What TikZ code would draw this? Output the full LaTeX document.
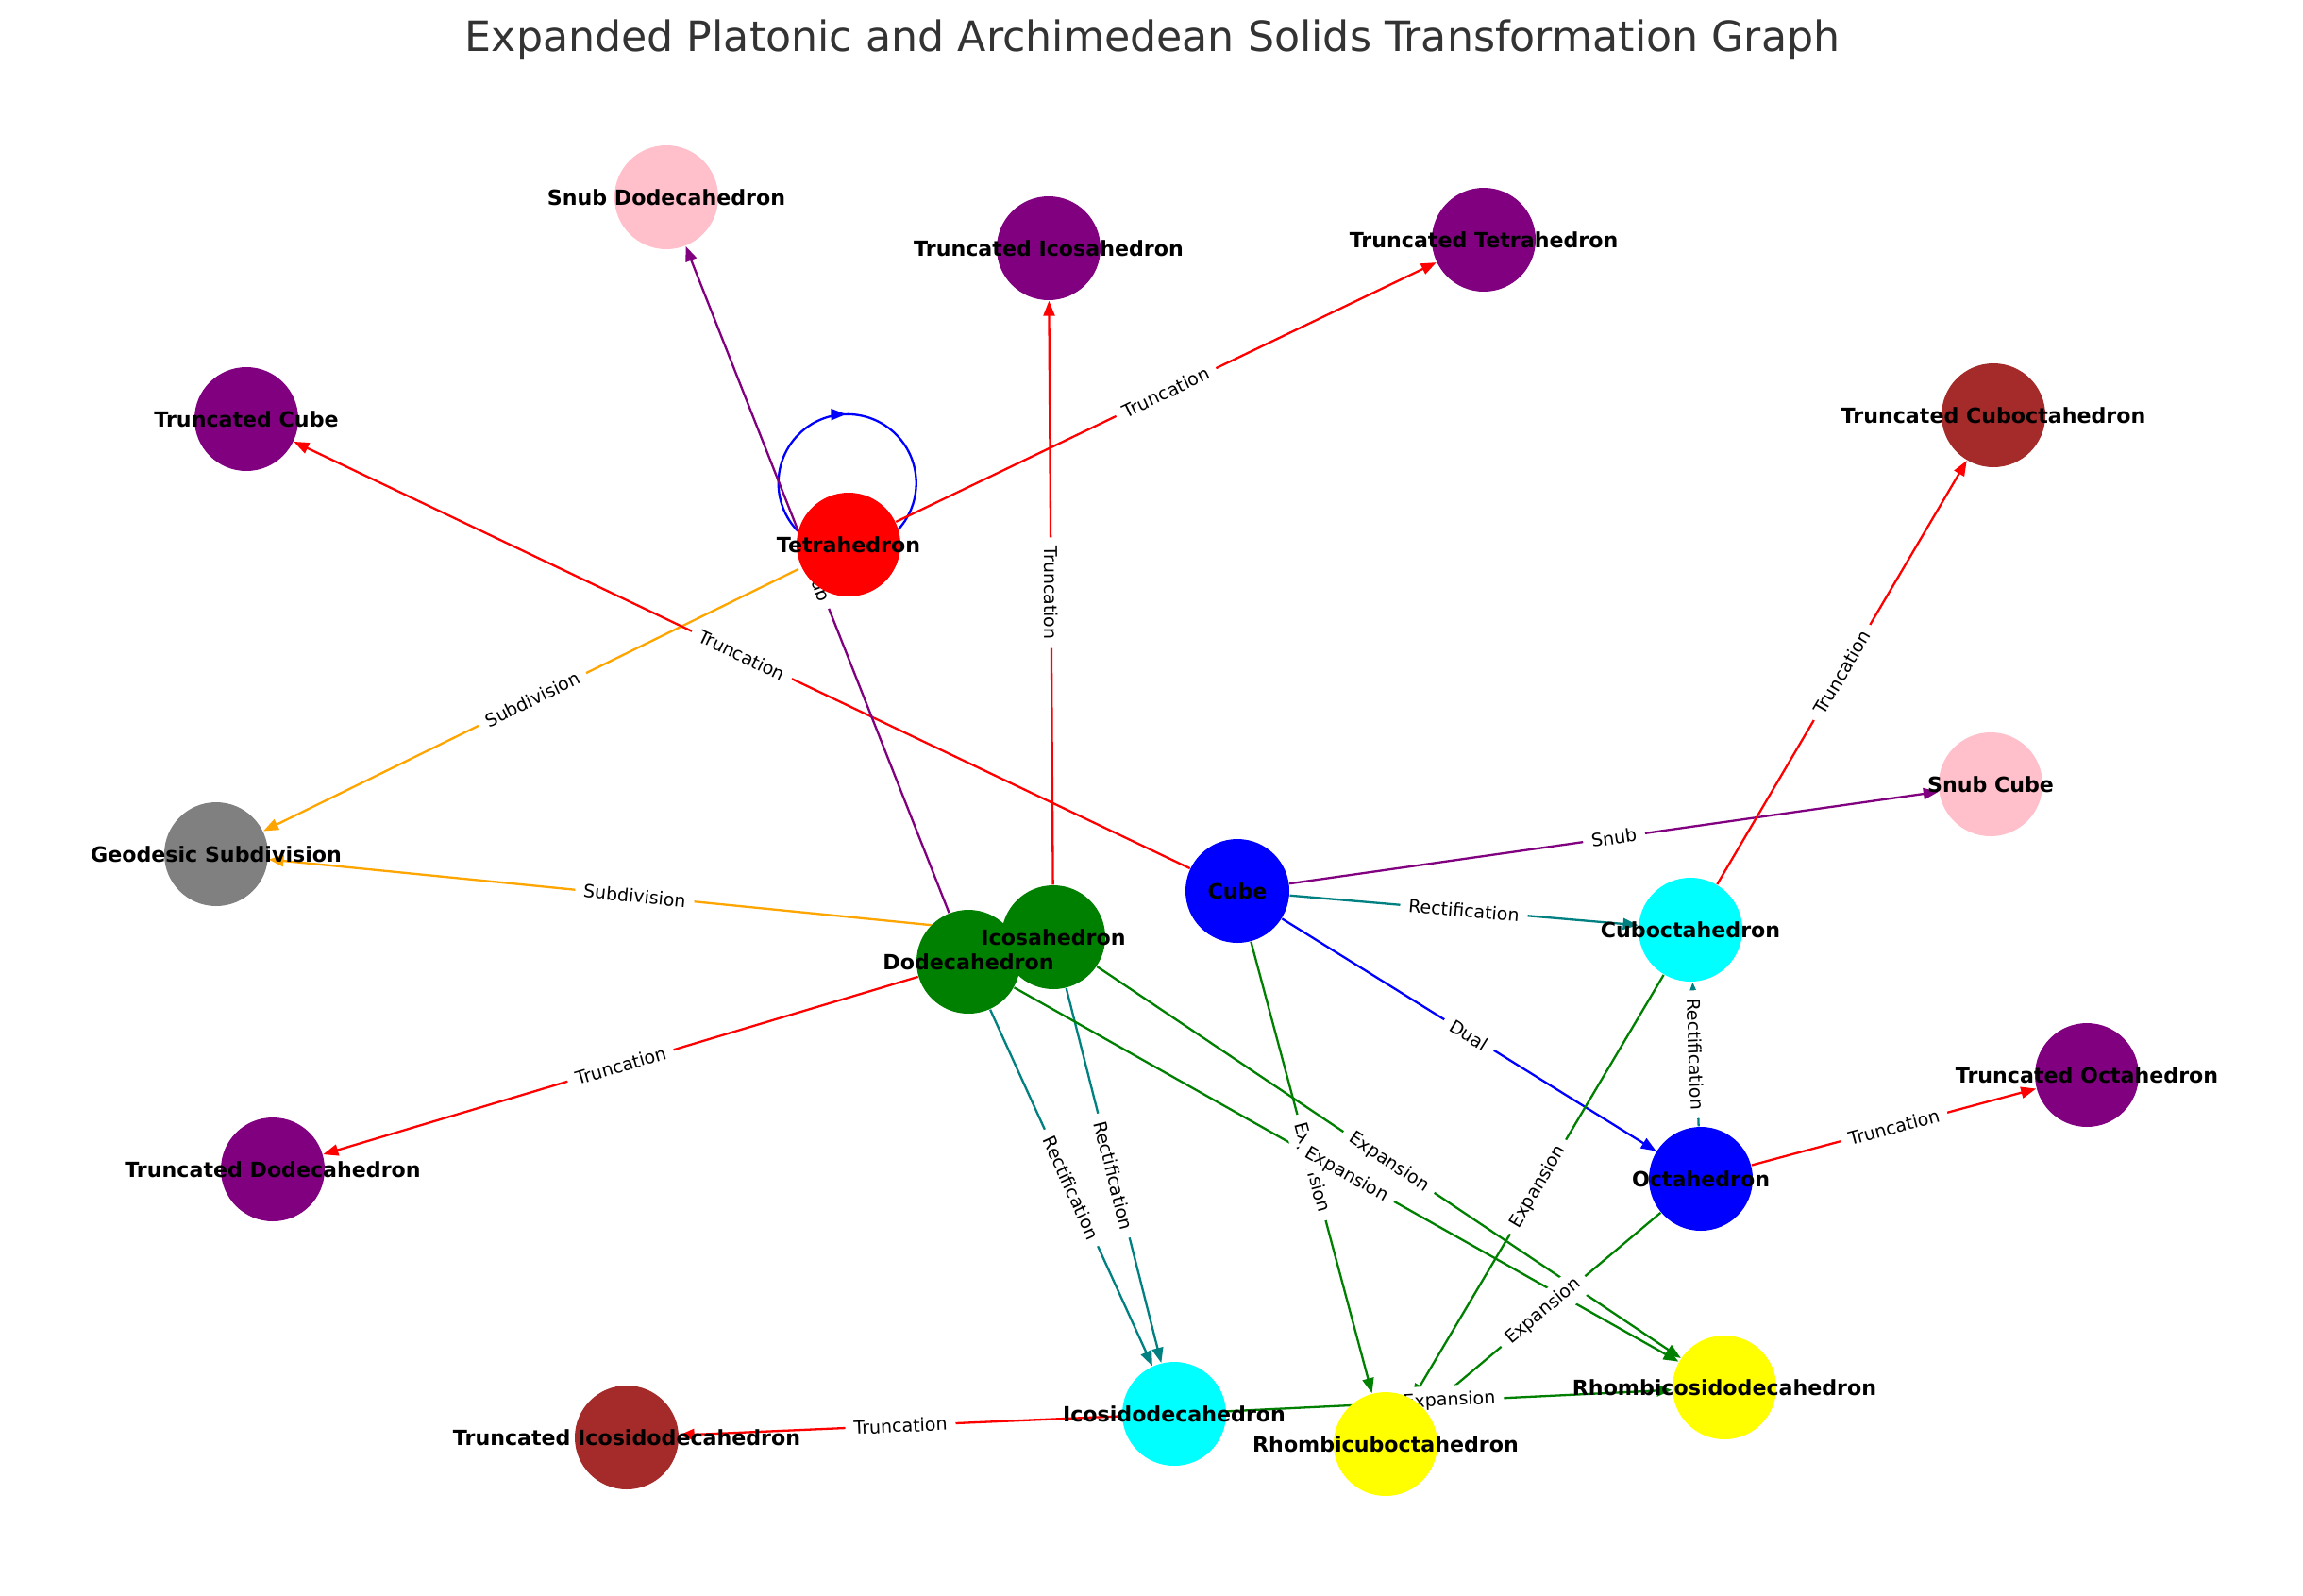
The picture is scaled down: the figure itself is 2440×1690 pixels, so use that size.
\documentclass[tikz,border=0pt]{standalone}
\usepackage{fontspec}
\setmainfont{DejaVu Sans}
\usetikzlibrary{arrows.meta,decorations.markings}
\definecolor{cred}{HTML}{FF0000}
\definecolor{cblue}{HTML}{0000FF}
\definecolor{cgreen}{HTML}{008000}
\definecolor{cpurple}{HTML}{800080}
\definecolor{cpink}{HTML}{FFC0CB}
\definecolor{ccyan}{HTML}{00FFFF}
\definecolor{cyellow}{HTML}{FFFF00}
\definecolor{cbrown}{HTML}{A52A2A}
\definecolor{cgray}{HTML}{808080}
\definecolor{cteal}{HTML}{008080}
\definecolor{corange}{HTML}{FFA500}
\definecolor{ctitle}{HTML}{333333}
\pgfdeclarelayer{edgelayer}
\pgfdeclarelayer{labellayer}
\pgfsetlayers{edgelayer,labellayer,main}
\tikzset{
  poly/.style  = { circle, fill=#1, minimum size=11mm, inner sep=0pt },
  pname/.style = { inner sep=0pt, font=\fontsize{6.3}{7.5}\selectfont\bfseries },
  link/.style  = { line width=0.23mm, draw=#1, -{Triangle[length=1.6mm,width=1.2mm]} },
  elab/.style  = { sloped, fill=white, rounded corners=0.6mm, inner xsep=0.9mm,
    inner ysep=0.7mm, font=\fontsize{5.4}{6.5}\selectfont }
}

\begin{document}
\begin{tikzpicture}[x=0.1mm,y=-0.1mm]
  \useasboundingbox (0,0) rectangle (2440,1690);
  \node[font=\fontsize{12.6}{15}\selectfont, text=ctitle] (title) at (1221,42)
    {Expanded Platonic and Archimedean Solids Transformation Graph};

  % solids
  \node[poly=cpink]   (snubd) at (706,209)   {};
  \node[poly=cpurple] (tico)  at (1111,263)  {};
  \node[poly=cpurple] (ttet)  at (1572,254)  {};
  \node[poly=cpurple] (tcube) at (261,444)   {};
  \node[poly=cred]    (tet)   at (899,577)   {};
  \node[poly=cbrown]  (tcubo) at (2112,440)  {};
  \node[poly=cpink]   (snubc) at (2109,831)  {};
  \node[poly=cgray]   (geo)   at (229,905)   {};
  \node[poly=cblue]   (cube)  at (1311,944)  {};
  \node[poly=cgreen]  (ico)   at (1116,993)  {};
  \node[poly=cgreen]  (dod)   at (1026,1019) {};
  \node[poly=ccyan]   (cubo)  at (1791,985)  {};
  \node[poly=cpurple] (toct)  at (2211,1139) {};
  \node[poly=cblue]   (oct)   at (1802,1249) {};
  \node[poly=cpurple] (tdod)  at (289,1239)  {};
  \node[poly=cyellow] (rid)   at (1827,1470) {};
  \node[poly=ccyan]   (idod)  at (1244,1498) {};
  \node[poly=cyellow] (rcubo) at (1468,1530) {};
  \node[poly=cbrown]  (tid)   at (664,1523)  {};

  \node[pname] (snubd-l) at (snubd) {Snub Dodecahedron};
  \node[pname] (tico-l)  at (tico)  {Truncated Icosahedron};
  \node[pname] (ttet-l)  at (ttet)  {Truncated Tetrahedron};
  \node[pname] (tcube-l) at (tcube) {Truncated Cube};
  \node[pname] (tet-l)   at (tet)   {Tetrahedron};
  \node[pname] (tcubo-l) at (tcubo) {Truncated Cuboctahedron};
  \node[pname] (snubc-l) at (snubc) {Snub Cube};
  \node[pname] (geo-l)   at (geo)   {Geodesic Subdivision};
  \node[pname] (cube-l)  at (cube)  {Cube};
  \node[pname] (ico-l)   at (ico)   {Icosahedron};
  \node[pname] (dod-l)   at (dod)   {Dodecahedron};
  \node[pname] (cubo-l)  at (cubo)  {Cuboctahedron};
  \node[pname] (toct-l)  at (toct)  {Truncated Octahedron};
  \node[pname] (oct-l)   at (oct)   {Octahedron};
  \node[pname] (tdod-l)  at (tdod)  {Truncated Dodecahedron};
  \node[pname] (rid-l)   at (rid)   {Rhombicosidodecahedron};
  \node[pname] (idod-l)  at (idod)  {Icosidodecahedron};
  \node[pname] (rcubo-l) at (rcubo) {Rhombicuboctahedron};
  \node[pname] (tid-l)   at (tid)   {Truncated Icosidodecahedron};

  % transformations
  \begin{pgfonlayer}{edgelayer}
    \fill[white] (0,0) rectangle (2440,1690);
    \draw[line width=0.23mm, cblue, postaction={decorate}, decoration={markings,
      mark=at position 0.5 with {\arrow{Triangle[length=1.6mm,width=1.2mm]}}}]
      (tet.165) arc[start angle=136, end angle=402, radius=73];
    \draw[link=cred]    (tet) -- (ttet);
    \draw[link=corange] (tet) -- (geo);
    \draw[link=cred]    (cube) -- (tcube);
    \draw[link=cpurple] (cube) -- (snubc);
    \draw[link=cteal]   (cube) -- (cubo);
    \draw[link=cblue]   (cube) -- (oct);
    \draw[link=cgreen]  (cube) -- (rcubo);
    \draw[link=cteal]   (oct) -- (cubo);
    \draw[link=cred]    (oct) -- (toct);
    \draw[link=cgreen]  (oct) -- (rcubo);
    \draw[link=cred]    (cubo) -- (tcubo);
    \draw[link=cgreen]  (cubo) -- (rcubo);
    \draw[link=cred]    (ico) -- (tico);
    \draw[link=corange] (ico) -- (geo);
    \draw[link=cteal]   (ico) -- (idod);
    \draw[link=cgreen]  (ico) -- (rid);
    \draw[link=cred]    (dod) -- (tdod);
    \draw[link=cpurple] (dod) -- (snubd);
    \draw[link=cteal]   (dod) -- (idod);
    \draw[link=cgreen]  (dod) -- (rid);
    \draw[link=cgreen]  (idod) -- (rid);
    \draw[link=cred]    (idod) -- (tid);
  \end{pgfonlayer}

  \begin{pgfonlayer}{labellayer}
    \path (tet.center) -- node[elab] {Truncation} (ttet.center);
    \path (tet.center) -- node[elab] {Subdivision} (geo.center);
    \path (cube.center) -- node[elab] {Truncation} (tcube.center);
    \path (cube.center) -- node[elab] {Snub} (snubc.center);
    \path (cube.center) -- node[elab] {Rectification} (cubo.center);
    \path (cube.center) -- node[elab] {Dual} (oct.center);
    \path (cube.center) -- node[elab] {Expansion} (rcubo.center);
    \path (oct.center) -- node[elab] {Rectification} (cubo.center);
    \path (oct.center) -- node[elab] {Truncation} (toct.center);
    \path (oct.center) -- node[elab] {Expansion} (rcubo.center);
    \path (cubo.center) -- node[elab] {Truncation} (tcubo.center);
    \path (cubo.center) -- node[elab] {Expansion} (rcubo.center);
    \path (ico.center) -- node[elab] {Truncation} (tico.center);
    \path (ico.center) -- node[elab] {Subdivision} (geo.center);
    \path (ico.center) -- node[elab] {Rectification} (idod.center);
    \path (ico.center) -- node[elab] {Expansion} (rid.center);
    \path (dod.center) -- node[elab] {Truncation} (tdod.center);
    \path (dod.center) -- node[elab] {Snub} (snubd.center);
    \path (dod.center) -- node[elab] {Rectification} (idod.center);
    \path (dod.center) -- node[elab] {Expansion} (rid.center);
    \path (idod.center) -- node[elab] {Expansion} (rid.center);
    \path (idod.center) -- node[elab] {Truncation} (tid.center);
  \end{pgfonlayer}
\end{tikzpicture}
\end{document}
